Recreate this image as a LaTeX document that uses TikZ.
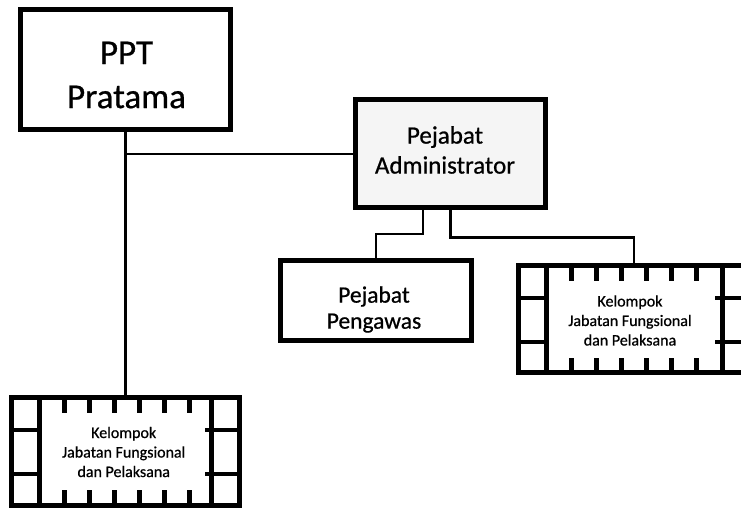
\documentclass[tikz,border=0pt]{standalone}
\usepackage{fontspec}
\setmainfont{Carlito}
% slightly heavier upright face for the labels
\newfontfamily\labelfont{Carlito}[FakeBold=0.7]
\usetikzlibrary{calc}

\tikzset{
  box/.style={draw=black, line width=5pt, outer sep=0pt, inner sep=0pt},
  conn/.style={draw=black, line width=2.2pt},
  strip/.style={line width=5pt, draw=black},
  divider/.style={line width=4pt, draw=black},
  tick/.style={line width=5.5pt, draw=black},
  txt/.style={align=center, inner sep=0pt, text=black},
}

% film-strip border decoration for a "Kelompok" frame node
\newcommand\kelframe[1]{%
  \draw[strip] ($(#1.north west)+(28,0)$) -- ($(#1.south west)+(28,0)$);
  \draw[strip] ($(#1.north east)+(-28,0)$) -- ($(#1.south east)+(-28,0)$);
  \draw[divider] ($(#1.north west)+(0,33)$) -- ++(28,0);
  \draw[divider] ($(#1.north west)+(0,77)$) -- ++(28,0);
  \draw[divider] ($(#1.north east)+(0,33)$) -- ++(-35,0);
  \draw[divider] ($(#1.north east)+(0,77)$) -- ++(-35,0);
  \foreach \t in {53,78,103,128,153,178}{
    \draw[tick] ($(#1.north west)+(\t,0)$) -- ++(0,16);
    \draw[tick] ($(#1.south west)+(\t,0)$) -- ++(0,-15);
  }%
}

\begin{document}
\begin{tikzpicture}[x=1pt, y=-1pt]
  \useasboundingbox (0,0) rectangle (741,508);
  \clip (0,0) rectangle (741,508);

  % boxes
  \node[box, minimum width=210pt, minimum height=120pt] (ppt) at (125.5,69.5) {};
  \node[txt, font=\labelfont\fontsize{35}{44}\selectfont] (pptT) at (126.5,75) {PPT\\Pratama};

  \node[box, fill=black!4, minimum width=190pt, minimum height=108pt] (adm) at (450.5,153.5) {};
  \node[txt, font=\labelfont\fontsize{25}{30}\selectfont] (admT) at (445,150) {Pejabat\\Administrator};

  \node[box, minimum width=191pt, minimum height=80pt] (peng) at (376,300.5) {};
  \node[txt, font=\labelfont\fontsize{23.5}{26}\selectfont] (pengT) at (374,309.5) {Pejabat\\Pengawas};

  \node[box, minimum width=231.5pt, minimum height=107.5pt] (kr) at (634.25,318.75) {};
  \kelframe{kr}
  \node[txt, font=\labelfont\fontsize{16}{19.5}\selectfont] (krT) at (630,320.5) {Kelompok\\Jabatan Fungsional\\dan Pelaksana};

  \node[box, minimum width=228pt, minimum height=108pt] (kl) at (125.5,451) {};
  \kelframe{kl}
  \node[txt, font=\labelfont\fontsize{16}{19.5}\selectfont] (klT) at (123.7,452) {Kelompok\\Jabatan Fungsional\\dan Pelaksana};

  % connectors
  \draw[conn] (ppt.south) -- (kl.north);
  \coordinate (jn) at (125.5,154);
  \draw[conn] (jn) -- (jn -| adm.west);
  \draw[conn] ([xshift=-27.5pt]adm.south) -- ++(0,26.5) -| (peng.north);
  \draw[conn] (adm.south) -- ++(0,30) -| (kr.north);
\end{tikzpicture}
\end{document}
